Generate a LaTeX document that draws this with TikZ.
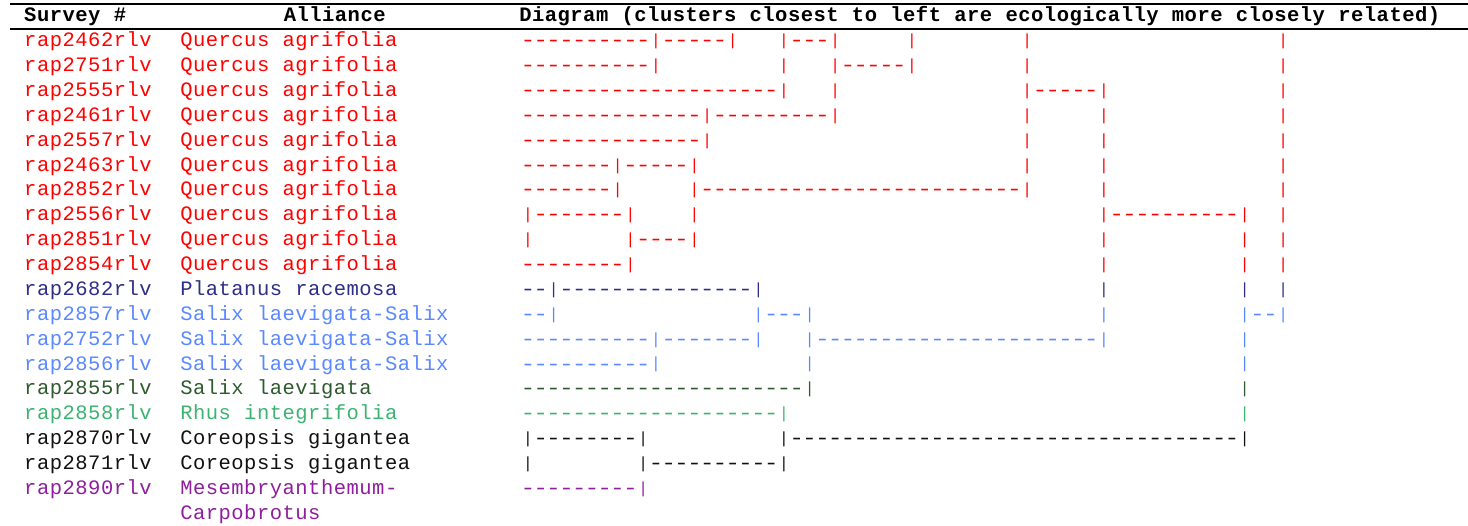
\documentclass[tikz,border=0pt]{standalone}
\usepackage{fontspec}
\usepackage{graphicx}
\newfontfamily\mono{Liberation Mono}
\newlength\chwd \setlength\chwd{12.8pt}
\newcommand\cbox[1]{\makebox[\chwd][c]{#1}}
\newcommand\vb{\cbox{\raisebox{-2.3pt}[0pt][0pt]{\resizebox*{!}{15pt}{\raisebox{\depth}{|}}}}}
\newcommand\hy{\cbox{\scalebox{1.2}[1]{-}}}
\newcommand\blk[1]{\hspace*{#1\chwd}}
\ExplSyntaxOn
\NewDocumentCommand\dsh{m}{\prg_replicate:nn{#1}{\hy}}
\NewDocumentCommand\mt{m}{\tl_map_inline:nn{#1}{\cbox{##1}}}
\NewDocumentCommand\dgm{m}{\tl_set:Nn \l_tmpa_tl {#1}\tl_replace_all:Nnn \l_tmpa_tl {|}{\vb}\tl_use:N \l_tmpa_tl}
\ExplSyntaxOff
\definecolor{cred}{HTML}{FF0000}
\definecolor{cnavy}{HTML}{2E2E88}
\definecolor{cblue}{HTML}{5A88FF}
\definecolor{cdkgreen}{HTML}{2F5A2F}
\definecolor{cgreen}{HTML}{3CB371}
\definecolor{cblack}{HTML}{111111}
\definecolor{cpurple}{HTML}{8E1E9E}
\tikzset{
  txt/.style={font=\mono\fontsize{20.5}{24}\selectfont, anchor=base west, inner sep=0pt, outer sep=0pt},
  hdr/.style={txt, font=\mono\bfseries\fontsize{20.5}{24}\selectfont, text=black},
  rule/.style={line width=2.3pt, black}
}
\newcommand\drow[5]{%
  \node[txt,text=#2] (id#1) at (24,{46.7+24.87*(#1-1)}) {\mt{#3}};
  \node[txt,text=#2] (nm#1) at (180,{46.7+24.87*(#1-1)}) {\mt{#4}};
  \node[txt,text=#2] (dg#1) at (521.6,{46.7+24.87*(#1-1)}) {\dgm{#5}};
}
\begin{document}
\begin{tikzpicture}[x=1pt,y=-1pt]
\useasboundingbox (0,0) rectangle (1468,526);
\coordinate (r1a) at (10,3.8);
\coordinate (r1b) at (1468,3.8);
\coordinate (r2a) at (10,28.8);
\coordinate (r2b) at (1468,28.8);
\draw[rule] (r1a) -- (r1b);
\draw[rule] (r2a) -- (r2b);
\node[hdr] (h1) at (24,21.5) {\mt{Survey~\#}};
\node[hdr] (h2) at (283.5,21.5) {\mt{Alliance}};
\node[hdr] (h3) at (519,21.5) {\mt{Diagram~(clusters~closest~to~left~are~ecologically~more~closely~related)}};
\drow{1}{cred}{rap2462rlv}{Quercus~agrifolia}{\dsh{10}|\dsh{5}|\blk{3}|\dsh{3}|\blk{5}|\blk{8}|\blk{19}|}
\drow{2}{cred}{rap2751rlv}{Quercus~agrifolia}{\dsh{10}|\blk{9}|\blk{3}|\dsh{5}|\blk{8}|\blk{19}|}
\drow{3}{cred}{rap2555rlv}{Quercus~agrifolia}{\dsh{20}|\blk{3}|\blk{14}|\dsh{5}|\blk{13}|}
\drow{4}{cred}{rap2461rlv}{Quercus~agrifolia}{\dsh{14}|\dsh{9}|\blk{14}|\blk{5}|\blk{13}|}
\drow{5}{cred}{rap2557rlv}{Quercus~agrifolia}{\dsh{14}|\blk{24}|\blk{5}|\blk{13}|}
\drow{6}{cred}{rap2463rlv}{Quercus~agrifolia}{\dsh{7}|\dsh{5}|\blk{25}|\blk{5}|\blk{13}|}
\drow{7}{cred}{rap2852rlv}{Quercus~agrifolia}{\dsh{7}|\blk{5}|\dsh{25}|\blk{5}|\blk{13}|}
\drow{8}{cred}{rap2556rlv}{Quercus~agrifolia}{|\dsh{7}|\blk{4}|\blk{31}|\dsh{10}|\blk{2}|}
\drow{9}{cred}{rap2851rlv}{Quercus~agrifolia}{|\blk{7}|\dsh{4}|\blk{31}|\blk{10}|\blk{2}|}
\drow{10}{cred}{rap2854rlv}{Quercus~agrifolia}{\dsh{8}|\blk{36}|\blk{10}|\blk{2}|}
\drow{11}{cnavy}{rap2682rlv}{Platanus~racemosa}{\dsh{2}|\dsh{15}|\blk{26}|\blk{10}|\blk{2}|}
\drow{12}{cblue}{rap2857rlv}{Salix~laevigata-Salix}{\dsh{2}|\blk{15}|\dsh{3}|\blk{22}|\blk{10}|\dsh{2}|}
\drow{13}{cblue}{rap2752rlv}{Salix~laevigata-Salix}{\dsh{10}|\dsh{7}|\blk{3}|\dsh{22}|\blk{10}|}
\drow{14}{cblue}{rap2856rlv}{Salix~laevigata-Salix}{\dsh{10}|\blk{11}|\blk{33}|}
\drow{15}{cdkgreen}{rap2855rlv}{Salix~laevigata}{\dsh{22}|\blk{33}|}
\drow{16}{cgreen}{rap2858rlv}{Rhus~integrifolia}{\dsh{20}|\blk{35}|}
\drow{17}{cblack}{rap2870rlv}{Coreopsis~gigantea}{|\dsh{8}|\blk{10}|\dsh{35}|}
\drow{18}{cblack}{rap2871rlv}{Coreopsis~gigantea}{|\blk{8}|\dsh{10}|}
\drow{19}{cpurple}{rap2890rlv}{Mesembryanthemum-}{\dsh{9}|}
\node[txt,text=cpurple] (nm20) at (180,{46.7+24.87*19}) {\mt{Carpobrotus}};
\end{tikzpicture}
\end{document}
